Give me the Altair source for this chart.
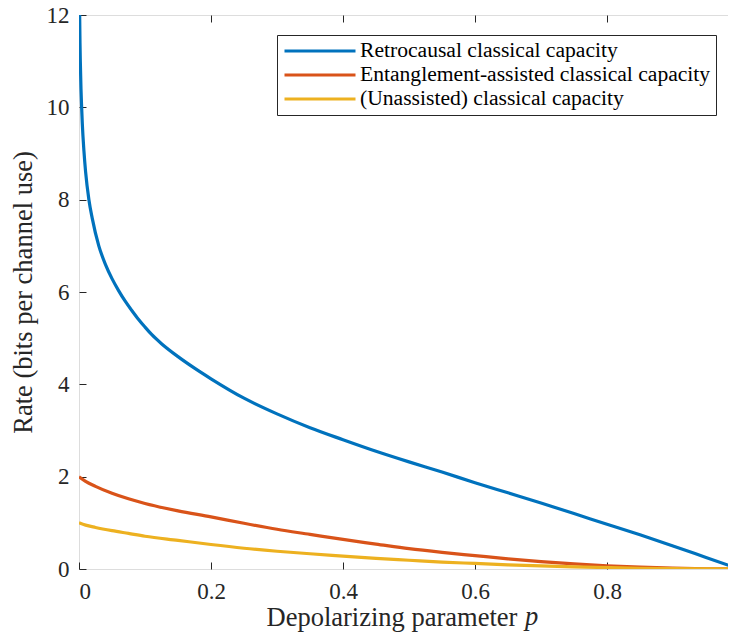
import altair as alt
import pandas as pd

series_names = [
    "Retrocausal classical capacity",
    "Entanglement-assisted classical capacity",
    "(Unassisted) classical capacity",
]
series_colors = ["#0072BD", "#D95319", "#EDB120"]

p_retro = [0.001, 0.0015, 0.002, 0.003, 0.004, 0.005, 0.0075, 0.01, 0.015, 0.02, 0.03,
           0.04, 0.05, 0.06, 0.07, 0.08, 0.09, 0.1, 0.11, 0.125, 0.15, 0.175, 0.2, 0.25,
           0.3, 0.35, 0.4, 0.45, 0.5, 0.55, 0.6, 0.65, 0.7, 0.75, 0.8, 0.85, 0.9, 0.95, 1.0]
rate_retro = [12.0, 11.4, 11.0, 10.4, 10.0, 9.65, 9.05, 8.6, 8.0, 7.6, 7.0,
              6.6, 6.29, 6.03, 5.8, 5.6, 5.41, 5.24, 5.08, 4.88, 4.6, 4.35, 4.12, 3.7,
              3.36, 3.06, 2.8, 2.55, 2.32, 2.1, 1.87, 1.65, 1.43, 1.2, 0.97, 0.74, 0.5, 0.25, 0.0]

p_ea = [0, 0.01, 0.025, 0.05, 0.075, 0.1, 0.15, 0.2, 0.25, 0.3, 0.35, 0.4, 0.45,
        0.5, 0.55, 0.6, 0.65, 0.7, 0.75, 0.8, 0.85, 0.9, 0.95, 1.0]
rate_ea = [2.0, 1.9, 1.79, 1.64, 1.52, 1.42, 1.26, 1.13, 0.99, 0.86, 0.75, 0.64, 0.54,
           0.44, 0.36, 0.29, 0.22, 0.16, 0.11, 0.07, 0.04, 0.02, 0.005, 0.0]

p_cl = [0, 0.01, 0.025, 0.05, 0.075, 0.1, 0.15, 0.2, 0.25, 0.3, 0.35, 0.4, 0.45,
        0.5, 0.55, 0.6, 0.65, 0.7, 0.75, 0.8, 0.85, 0.9, 0.95, 1.0]
rate_cl = [1.0, 0.95, 0.9, 0.83, 0.77, 0.71, 0.62, 0.53, 0.45, 0.385, 0.33, 0.28, 0.23,
           0.19, 0.15, 0.12, 0.09, 0.066, 0.046, 0.03, 0.016, 0.007, 0.002, 0.0]

x_ticks = [0, 0.2, 0.4, 0.6, 0.8, 1]
y_ticks = [0, 2, 4, 6, 8, 10, 12]

x_title = "Depolarizing parameter"
x_symbol = ["p"]
y_title = "Rate (bits per channel use)"

frames = []
for name, ps, rs in [(series_names[0], p_retro, rate_retro),
                     (series_names[1], p_ea, rate_ea),
                     (series_names[2], p_cl, rate_cl)]:
    frames.append(pd.DataFrame({"p": ps, "rate": rs, "series": name}))
df = pd.concat(frames, ignore_index=True)

FONT = "Liberation Serif"
AX = "#262626"
W, H = 660, 554

xscale = alt.Scale(domain=[0, 1], nice=False, zero=False)
yscale = alt.Scale(domain=[0, 12], nice=False)

color = alt.Color(
    "series:N",
    scale=alt.Scale(domain=series_names, range=series_colors),
    legend=alt.Legend(
        orient="none", legendX=198, legendY=20, title=None,
        symbolType="stroke", symbolSize=5041, symbolStrokeWidth=3,
        labelFont=FONT, labelFontSize=21.6, labelColor="black", labelLimit=600,
        labelOffset=3, symbolOffset=1, clipHeight=22,
        strokeColor=AX, fillColor="white", padding=5, rowPadding=2,
    ),
)

x_main = alt.X("p:Q", scale=xscale, axis=alt.Axis(
    values=x_ticks, format="~g", orient="bottom", offset=-7, tickSize=7,
    domain=False, grid=False, tickColor=AX, tickWidth=1,
    labelFont=FONT, labelFontSize=23, labelColor=AX, labelPadding=11,
    title=x_title, titleFont=FONT, titleFontSize=26.5, titleFontWeight="normal",
    titleColor=AX, titleX=187, titleY=63, titleAlign="left",
    titleBaseline="alphabetic",
))
y_main = alt.Y("rate:Q", scale=yscale, axis=alt.Axis(
    values=y_ticks, orient="left", offset=-7, tickSize=7,
    domain=False, grid=False, tickColor=AX, tickWidth=1,
    labelFont=FONT, labelFontSize=23, labelColor=AX, labelPadding=10,
    title=y_title, titleFont=FONT, titleFontSize=26.5, titleFontWeight="normal",
    titleColor=AX, titleX=-55, titleY=277, titleAngle=270, titleAlign="center",
    titleBaseline="alphabetic",
))

base = alt.Chart(df)

layers = []
for i, name in enumerate(series_names):
    if i == 0:
        enc = dict(x=x_main, y=y_main)
    else:
        enc = dict(x=alt.X("p:Q", scale=xscale, axis=None),
                   y=alt.Y("rate:Q", scale=yscale, axis=None))
    layers.append(
        base.transform_filter(alt.datum.series == name)
        .mark_line(strokeWidth=3.2, clip=True, interpolate="monotone")
        .encode(color=color, **enc)
    )

mirror = base.transform_filter(alt.datum.series == series_names[0]).mark_point(opacity=0).encode(
    x=alt.X("p:Q", scale=xscale, title=None, axis=alt.Axis(
        values=x_ticks, orient="top", offset=-7, tickSize=7, labels=False,
        domain=False, grid=False, tickColor=AX, tickWidth=1)),
    y=alt.Y("rate:Q", scale=yscale, title=None, axis=alt.Axis(
        values=y_ticks, orient="right", offset=-7, tickSize=7, labels=False,
        domain=False, grid=False, tickColor=AX, tickWidth=1)),
)

p_label = alt.Chart(pd.DataFrame({"t": x_symbol})).mark_text(
    font=FONT, fontSize=26.5, fontStyle="italic", align="left",
    baseline="alphabetic", color=AX,
).encode(text="t:N", x=alt.value(446), y=alt.value(610))

chart = alt.layer(*layers, mirror, p_label).resolve_axis(
    x="independent", y="independent"
).properties(
    width=W, height=H,
    autosize=alt.AutoSizeParams(type="none"),
    padding={"left": 71, "top": 7, "right": -11, "bottom": 68},
).configure_view(stroke=AX, strokeWidth=1).configure(background="white")

chart.save("out.html", embed_options={"renderer": "svg", "actions": False})
